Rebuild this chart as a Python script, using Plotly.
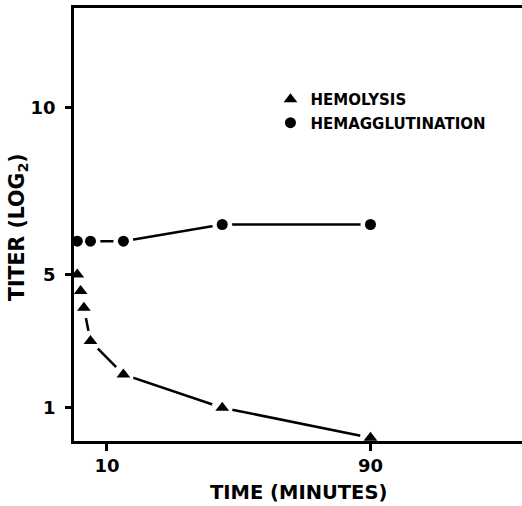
import plotly.graph_objects as go

# Hemolysis and hemagglutination titers (log2) over time
hemolysis_time = [1, 2, 3, 5, 15, 45, 90]
hemolysis_titer = [5, 4.5, 4, 3, 2, 1, 0.1]

hemagg_time = [1, 5, 15, 45, 90]
hemagg_titer = [6, 6, 6, 6.5, 6.5]

x_ticks = [10, 90]
y_ticks = [1, 5, 10]

FONT = "DejaVu Sans"
INK = "black"

fig = go.Figure()

series = [
    ("HEMOLYSIS", hemolysis_time, hemolysis_titer, "triangle-up", 12),
    ("HEMAGGLUTINATION", hemagg_time, hemagg_titer, "circle", 11),
]

# connecting lines
for name, xs, ys, sym, size in series:
    fig.add_trace(go.Scatter(x=xs, y=ys, mode="lines", showlegend=False,
                             line=dict(color=INK, width=2.5), hoverinfo="skip"))

# white discs under each symbol leave a small gap in the line around it
for name, xs, ys, sym, size in series:
    fig.add_trace(go.Scatter(x=xs, y=ys, mode="markers", showlegend=False,
                             marker=dict(symbol="circle", size=size + 9, color="white",
                                         line=dict(width=0)),
                             hoverinfo="skip"))

# symbols
for name, xs, ys, sym, size in series:
    fig.add_trace(go.Scatter(x=xs, y=ys, mode="markers", name=name,
                             legendgroup=name,
                             marker=dict(symbol=sym, size=size, color=INK,
                                         line=dict(width=0))))

fig.update_layout(
    width=522, height=506,
    margin=dict(l=74, r=0, t=8, b=65),
    paper_bgcolor="white", plot_bgcolor="white",
    font=dict(family=FONT, color=INK),
    showlegend=True,
    legend=dict(x=0.4385, y=0.827, xanchor="left", yanchor="top",
                bgcolor="rgba(0,0,0,0)", borderwidth=0,
                traceorder="grouped", tracegroupgap=1,
                font=dict(family=FONT, size=15, color=INK, weight="bold"),
                itemwidth=30),
    xaxis=dict(range=[0, 136], tickvals=x_ticks, ticktext=[str(v) for v in x_ticks],
               showgrid=False, zeroline=False, showline=True, linecolor=INK,
               linewidth=2.5, mirror=True, ticks="outside", ticklen=7,
               tickwidth=2.5, tickcolor=INK, layer="above traces",
               tickfont=dict(family=FONT, size=18, color=INK, weight="bold")),
    yaxis=dict(range=[0, 13], tickvals=y_ticks, ticktext=[str(v) for v in y_ticks],
               showgrid=False, zeroline=False, showline=True, linecolor=INK,
               linewidth=2.5, ticks="outside", ticklen=6, tickwidth=2.5,
               tickcolor=INK, layer="above traces", ticklabelstandoff=6,
               tickfont=dict(family=FONT, size=18, color=INK, weight="bold")),
    annotations=[
        dict(text="TIME (MINUTES)", xref="paper", yref="paper", x=0.5, y=-0.12,
             xanchor="center", yanchor="middle", showarrow=False,
             font=dict(family=FONT, size=19.5, color=INK, weight="bold")),
        dict(text="TITER (LOG<sub>2</sub>)", xref="paper", yref="paper",
             x=-0.125, y=0.494, xanchor="center", yanchor="middle", textangle=-90,
             showarrow=False,
             font=dict(family=FONT, size=20.5, color=INK, weight="bold")),
    ],
)

fig.write_html("out.html")
